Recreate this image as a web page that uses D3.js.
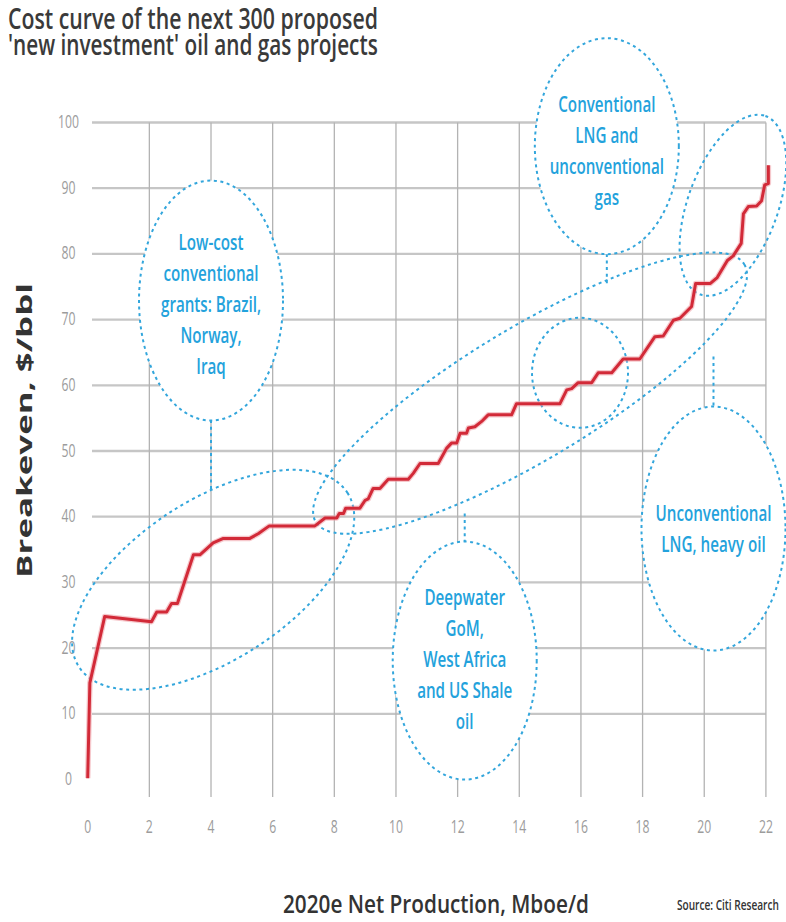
<!DOCTYPE html>
<html>
<head>
<meta charset="utf-8">
<script src="https://cdn.jsdelivr.net/npm/d3@7"></script>
<style>
  html, body { margin: 0; padding: 0; background: #ffffff; }
  svg { display: block; }
  text { font-family: "Open Sans", "Noto Sans", sans-serif; }
</style>
</head>
<body>
<svg id="chart" width="786" height="922"></svg>
<script>
// Cumulative 2020e net production of the ranked projects (Mboe/d)
const production = [
  0, 0.07, 0.55, 2.07, 2.24, 2.56, 2.72, 2.91, 3.43, 3.64, 4.07, 4.4, 5.26, 5.53, 5.89,
  7.37, 7.7, 8.08, 8.16, 8.3, 8.37, 8.83, 9.0, 9.1, 9.26, 9.48, 9.75, 10.4, 10.56, 10.78,
  11.37, 11.64, 11.8, 11.97, 12.08, 12.29, 12.35, 12.56, 12.78, 12.99, 13.75, 13.91, 15.32,
  15.54, 15.7, 15.91, 16.35, 16.56, 17.0, 17.37, 17.91, 18.4, 18.67, 19.0, 19.21, 19.59,
  19.72, 20.2, 20.42, 20.75, 20.94, 21.2, 21.27, 21.43, 21.7, 21.86, 21.96, 22.08, 22.08
];
// Breakeven price at each step of the cost curve ($/bbl)
const breakeven = [
  0.2, 14.7, 24.8, 24.0, 25.5, 25.5, 26.8, 26.8, 34.2, 34.2, 36.0, 36.7, 36.7, 37.4, 38.6,
  38.6, 39.8, 39.8, 40.5, 40.5, 41.3, 41.3, 42.5, 42.7, 44.3, 44.3, 45.7, 45.7, 46.6, 48.1,
  48.1, 50.4, 51.2, 51.2, 52.7, 52.7, 53.5, 53.7, 54.5, 55.5, 55.5, 57.2, 57.2,
  59.3, 59.5, 60.4, 60.4, 61.9, 61.9, 64.0, 64.0, 67.4, 67.5, 69.9, 70.2, 72.0,
  75.5, 75.5, 76.4, 79.0, 79.7, 81.6, 86.1, 87.2, 87.3, 88.1, 90.5, 90.7, 93.5
];
const yTickValues = [0, 10, 20, 30, 40, 50, 60, 70, 80, 90, 100];
const xTickValues = [0, 2, 4, 6, 8, 10, 12, 14, 16, 18, 20, 22];
const titleLines = ["Cost curve of the next 300 proposed", "'new investment' oil and gas projects"];
const xAxisTitle = "2020e Net Production, Mboe/d";
const yAxisTitle = "Breakeven, $/bbl";
const sourceNote = "Source: Citi Research";
const groupNames = [
  ["Low-cost", "conventional", "grants: Brazil,", "Norway,", "Iraq"],
  ["Conventional", "LNG and", "unconventional", "gas"],
  ["Deepwater", "GoM,", "West Africa", "and US Shale", "oil"],
  ["Unconventional", "LNG, heavy oil"]
];

const svg = d3.select("#chart");
const x = d3.scaleLinear().domain([0, 22]).range([87.7, 765.9]);
const y = d3.scaleLinear().domain([0, 100]).range([779.5, 122.5]);

const BLUE = "#33a6dc";
const TEXT_BLUE = "#23a2dc";
const GRID_H = "#c6c6c6";
const GRID_V = "#b3b3b3";

// Narrow, tall lettering in the style of the original typeface.
// o.width squeezes the run to a given width; o.sx gives a fixed squeeze.
function label(parent, str, px, py, o) {
  const t = parent.append("text")
    .attr("text-anchor", o.anchor || "start")
    .attr("font-size", o.size)
    .attr("font-weight", o.weight || 400)
    .attr("fill", o.fill || "#333")
    .text(str);
  if (o.family) t.attr("font-family", o.family);
  let sx = o.sx || 1;
  if (o.width) sx = o.width / t.node().getComputedTextLength();
  t.attr("transform", `translate(${px},${py}) rotate(${o.rotate || 0}) scale(${sx},1)`);
  return t;
}

// ---- grid ----
const grid = svg.append("g");
grid.selectAll("line.h")
  .data(yTickValues.filter(v => v > 0))
  .join("line")
  .attr("x1", 92).attr("x2", x(22))
  .attr("y1", d => y(d)).attr("y2", d => y(d))
  .attr("stroke", GRID_H).attr("stroke-width", 2.3);
grid.selectAll("line.v")
  .data(xTickValues.filter(v => v > 0))
  .join("line")
  .attr("x1", d => x(d)).attr("x2", d => x(d))
  .attr("y1", y(100)).attr("y2", 797)
  .attr("stroke", GRID_V).attr("stroke-width", 1.3);

// ---- tick labels ----
const tickStyle = { size: 18.5, weight: 400, fill: "#9c9c9c", sx: 0.66, anchor: "middle" };
yTickValues.forEach(v => label(svg, String(v), 68.5, y(v) + 5.5, tickStyle));
xTickValues.forEach(v => label(svg, String(v), x(v), 833, tickStyle));

// ---- highlighted segments of the curve (dotted rings) ----
const dotted = { stroke: BLUE, "stroke-width": 2, "stroke-dasharray": "3 3.6", fill: "none" };
function ring(cxv, cyv, rx, ry, rot, fill) {
  const e = svg.append("ellipse")
    .attr("cx", 0).attr("cy", 0).attr("rx", rx).attr("ry", ry)
    .attr("transform", `translate(${x(cxv)},${y(cyv)}) rotate(${rot})`);
  Object.entries(dotted).forEach(([k, v]) => e.attr(k, v));
  if (fill) e.attr("fill", fill);
  return e;
}
function stem(xv, y0, y1) {
  const l = svg.append("line")
    .attr("x1", x(xv)).attr("x2", x(xv)).attr("y1", y(y0)).attr("y2", y(y1));
  Object.entries(dotted).forEach(([k, v]) => l.attr(k, v));
}

ring(4.07, 30.4, 160, 80, -33);        // low-cost segment
ring(14.35, 58.8, 250, 66, -31);       // deepwater / shale segment
ring(15.97, 61.9, 48, 55, 0);          // LNG step
ring(20.93, 87.4, 95, 45, -70);        // top of the curve

stem(4.0, 54.7, 44.2);
stem(16.84, 80.0, 75.2);
stem(12.23, 40.5, 36.2);
stem(20.3, 64.4, 56.7);

// ---- cost curve ----
const pts = production.map((p, i) => [p, breakeven[i]]);
const line = d3.line().x(d => x(d[0])).y(d => y(d[1])).curve(d3.curveLinear);
svg.append("path").datum(pts).attr("d", line)
  .attr("fill", "none").attr("stroke", "#ee9aa2").attr("stroke-width", 5.5)
  .attr("stroke-linejoin", "round").attr("opacity", 0.55);
svg.append("path").datum(pts).attr("d", line)
  .attr("fill", "none").attr("stroke", "#d22a38").attr("stroke-width", 3)
  .attr("stroke-linejoin", "round");

// ---- labelled bubbles ----
const bubbles = [
  { c: [4.0, 72.9], ry: 120, dy: 3, names: groupNames[0] },
  { c: [16.84, 96.4], ry: 108, dy: 4, names: groupNames[1] },
  { c: [12.23, 18.1], ry: 119, dy: -2, names: groupNames[2] },
  { c: [20.3, 38.2], ry: 122, dy: 0, names: groupNames[3] }
];
bubbles.forEach(b => {
  ring(b.c[0], b.c[1], 72, b.ry, 0, "#ffffff");
  const n = b.names.length;
  const mid = y(b.c[1]) + b.dy;
  b.names.forEach((s, i) => {
    const cy = mid + (i - (n - 1) / 2) * 31;
    label(svg, s, x(b.c[0]), cy + 8, { size: 22, weight: 600, fill: TEXT_BLUE, sx: 0.69, anchor: "middle" });
  });
});

// ---- titles ----
titleLines.forEach((s, i) =>
  label(svg, s, 8, 29 + i * 26, { size: 28, weight: 600, fill: "#3a3a3a", width: 370 }));
label(svg, xAxisTitle, 283, 913, { size: 25, weight: 600, fill: "#333", width: 306 });
label(svg, sourceNote, 677, 910, { size: 15, weight: 600, fill: "#333", width: 102 });

// vertical axis title, letters drawn wide along the axis
label(svg, yAxisTitle, 32, 430.5, {
  size: 20.5, weight: 700, fill: "#333", family: "'DejaVu Sans', sans-serif",
  anchor: "middle", rotate: -90, width: 295
});
</script>
</body>
</html>
